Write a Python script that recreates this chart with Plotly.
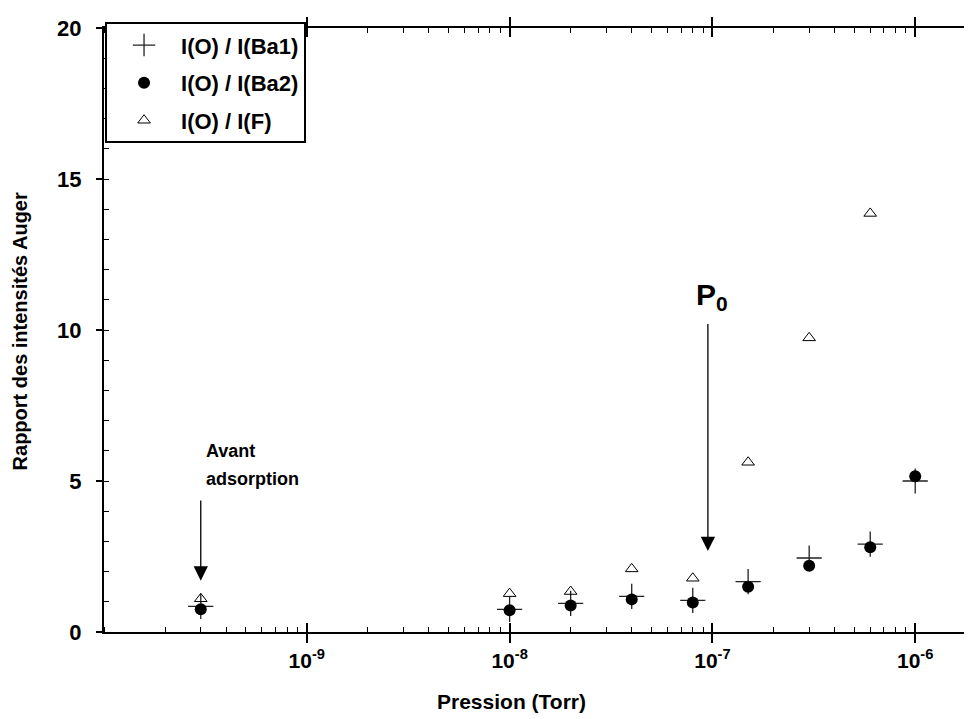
import math
import plotly.graph_objects as go

# ---- data ----
pression = [3e-10, 1e-8, 2e-8, 4e-8, 8e-8, 1.5e-7, 3e-7, 6e-7, 1e-6]
ratio_ba1 = [0.85, 0.75, 0.95, 1.18, 1.05, 1.67, 2.45, 2.91, 5.0]
ratio_ba2 = [0.75, 0.72, 0.88, 1.08, 0.98, 1.50, 2.19, 2.81, 5.16]
pression_f = [3e-10, 1e-8, 2e-8, 4e-8, 8e-8, 1.5e-7, 3e-7, 6e-7]
ratio_f = [1.10, 1.27, 1.34, 2.09, 1.78, 5.62, 9.74, 13.86]

x_tickvals = [1e-9, 1e-8, 1e-7, 1e-6]
x_ticktext = ["<b>10<sup>-9</sup></b>", "<b>10<sup>-8</sup></b>",
              "<b>10<sup>-7</sup></b>", "<b>10<sup>-6</sup></b>"]
y_tickvals = [0, 5, 10, 15, 20]
y_ticktext = ["<b>0</b>", "<b>5</b>", "<b>10</b>", "<b>15</b>", "<b>20</b>"]

# annotation anchors (data units)
p0_x, p0_tip, p0_tail = 0.95e-7, 2.68, 10.25
avant_x, avant_tip, avant_tail = 3e-10, 1.70, 4.40

FONT = "Liberation Sans, Arial, sans-serif"
LOG_RANGE = [-10.0, -5.72]

fig = go.Figure()
fig.add_trace(go.Scatter(
    x=pression, y=ratio_ba1, mode="markers", name="<b>I(O) / I(Ba1)</b>",
    legendgroup="a",
    marker=dict(symbol="cross-thin", size=18, color="#222",
                line=dict(width=1.3, color="#222"))))
fig.add_trace(go.Scatter(
    x=pression, y=ratio_ba2, mode="markers", name="<b>I(O) / I(Ba2)</b>",
    legendgroup="b",
    marker=dict(symbol="circle", size=12, color="black")))
fig.add_trace(go.Scatter(
    x=pression_f, y=ratio_f, mode="markers", name="<b>I(O) / I(F)</b>",
    legendgroup="c",
    marker=dict(symbol="triangle-up-open", size=11, color="black",
                line=dict(width=1, color="black"))))
# helper trace for overlay axes
fig.add_trace(go.Scatter(x=[], y=[], xaxis="x2", yaxis="y2", showlegend=False))

fig.update_layout(
    width=972, height=719,
    margin=dict(l=96, r=8, t=11, b=95),
    paper_bgcolor="white", plot_bgcolor="white",
    font=dict(family=FONT, size=18, color="black"),
    showlegend=True,
    legend=dict(x=0.0012, y=1.0095, xanchor="left", yanchor="top",
                bgcolor="white", bordercolor="black", borderwidth=2,
                font=dict(size=22), tracegroupgap=6, itemwidth=64,
                traceorder="grouped"),
    xaxis=dict(type="log", range=LOG_RANGE, showgrid=False, zeroline=False,
               showline=True, linecolor="black", linewidth=2,
               mirror="ticks", ticks="outside", ticklen=9, tickwidth=1.5,
               tickcolor="black", tickmode="array", tickvals=x_tickvals,
               ticktext=x_ticktext, tickfont=dict(size=21),
               minor=dict(ticks="inside", ticklen=5, tickwidth=1,
                          tickcolor="black", dtick="D1", showgrid=False)),
    xaxis2=dict(type="log", range=LOG_RANGE, overlaying="x", showgrid=False,
                zeroline=False, showline=False, ticks="inside", ticklen=9,
                tickwidth=1.5, tickcolor="black", tickmode="array",
                tickvals=x_tickvals, showticklabels=False, mirror="ticks"),
    yaxis=dict(range=[0, 20], showgrid=False, zeroline=False,
               showline=True, linecolor="black", linewidth=2,
               ticks="outside", ticklen=6, tickwidth=1.5, tickcolor="black",
               tickmode="array", tickvals=y_tickvals, ticktext=y_ticktext,
               tickfont=dict(size=22), ticklabelstandoff=10,
               minor=dict(ticks="inside", ticklen=5, tickwidth=1,
                          tickcolor="black", dtick=1, showgrid=False)),
    yaxis2=dict(range=[0, 20], overlaying="y", side="right", showgrid=False,
                zeroline=False, showline=False, ticks="inside", ticklen=5,
                tickwidth=1, tickcolor="black", tickmode="array",
                tickvals=y_tickvals, showticklabels=False),
)

annots = [
    # axis titles
    dict(xref="paper", yref="paper", x=0.469, y=-0.1158,
         text="<b>Pression (Torr)</b>", showarrow=False,
         xanchor="center", yanchor="middle", font=dict(size=21)),
    dict(xref="paper", yref="paper", x=-0.0968, y=0.4976, textangle=-90,
         text="<b>Rapport des intensités Auger</b>", showarrow=False,
         xanchor="center", yanchor="middle", font=dict(size=20)),
    # P0 arrow
    dict(x=math.log10(p0_x), y=p0_tip, ax=0, ay=p0_tail, ayref="y",
         axref="pixel", text="", showarrow=True, arrowhead=2, arrowsize=2.2,
         arrowwidth=1.3, arrowcolor="black"),
    dict(x=math.log10(p0_x), y=p0_tail, text="<b>P<sub>0</sub></b>",
         showarrow=False, xanchor="center", yanchor="bottom",
         font=dict(size=30), xshift=4, yshift=5),
    # avant adsorption arrow
    dict(x=math.log10(avant_x), y=avant_tip, ax=0, ay=avant_tail, ayref="y",
         axref="pixel", text="", showarrow=True, arrowhead=2, arrowsize=2.2,
         arrowwidth=1.3, arrowcolor="black"),
    dict(x=math.log10(avant_x), y=avant_tail, text="<b>Avant</b>",
         showarrow=False, xanchor="left", yanchor="bottom", yshift=36,
         xshift=3, font=dict(size=18)),
    dict(x=math.log10(avant_x), y=avant_tail, text="<b>adsorption</b>",
         showarrow=False, xanchor="left", yanchor="bottom", yshift=8,
         xshift=3, font=dict(size=18)),
]
fig.update_layout(annotations=annots)

fig.write_html("out.html")
